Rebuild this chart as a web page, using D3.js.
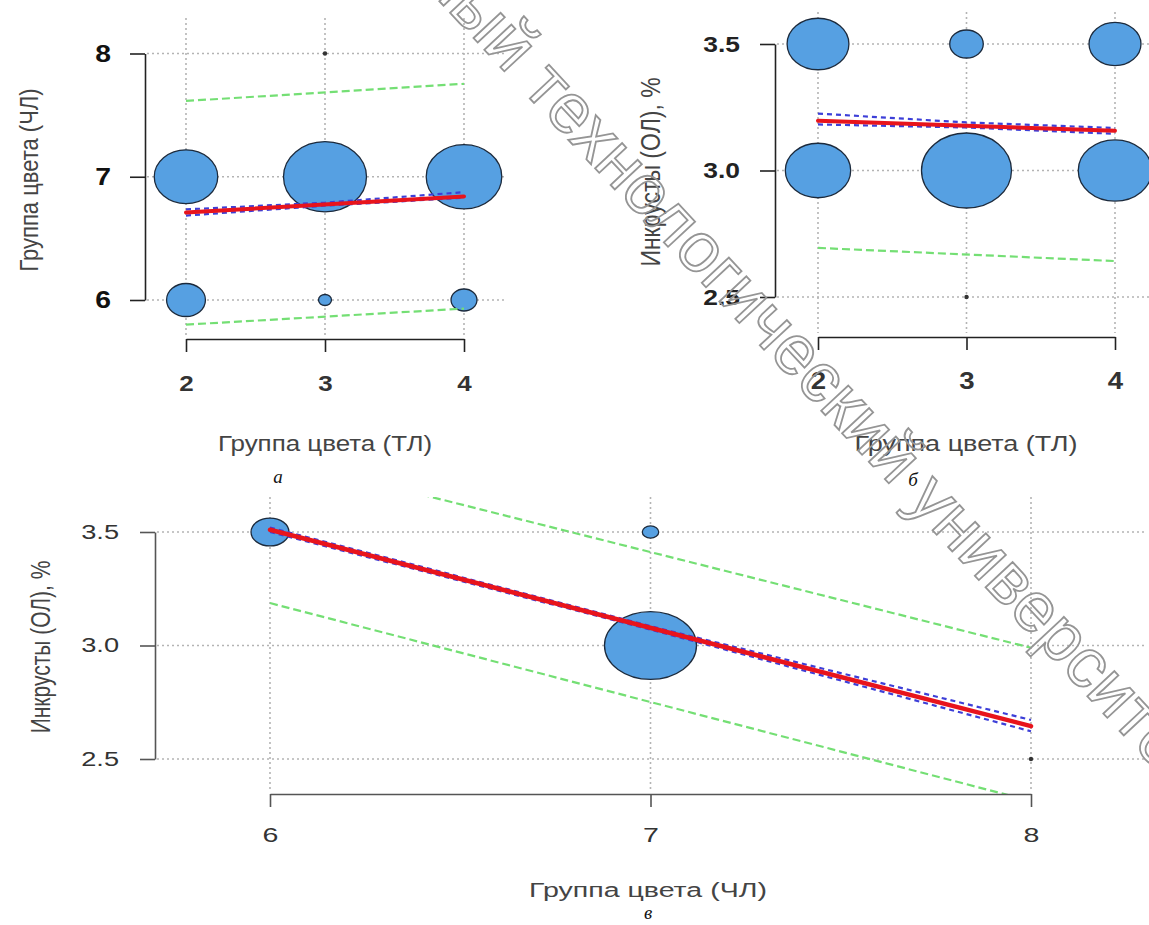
<!DOCTYPE html>
<html><head><meta charset="utf-8">
<script src="https://cdn.jsdelivr.net/npm/d3@7"></script>
<style>body{margin:0;background:#fff}svg{display:block}</style>
</head><body>
<svg id="c" width="1149" height="925"></svg>
<script>
// ---------------- data ----------------
// panel а : Группа цвета (ТЛ) vs Группа цвета (ЧЛ)
const aXTicks = [2, 3, 4];
const aYTicks = [6, 7, 8];
const aBubX = [2, 3, 4, 2, 3, 4, 3];
const aBubY = [7, 7, 7, 6, 6, 6, 8];
const aBubN = [24, 41, 34, 9, 1, 4, 0];
const aFitX = [2, 4], aFitY = [6.71, 6.84];
const aCiX = [2, 3, 4], aCiUp = [6.735, 6.79, 6.875], aCiLo = [6.685, 6.765, 6.83];
const aPiX = [2, 4], aPiUp = [7.615, 7.754], aPiLo = [5.80, 5.93];

// panel б : Группа цвета (ТЛ) vs Инкрусты (ОЛ), %
const bXTicks = [2, 3, 4];
const bYTicks = [2.5, 3.0, 3.5];
const bBubX = [2, 3, 4, 2, 3, 4, 3];
const bBubY = [3.5, 3.5, 3.5, 3.0, 3.0, 3.0, 2.5];
const bBubN = [17, 5, 12, 19, 36, 24, 0];
const bFitX = [2, 4], bFitY = [3.197, 3.157];
const bCiX = [2, 3, 4], bCiUp = [3.225, 3.19, 3.168], bCiLo = [3.182, 3.17, 3.145];
const bPiX = [2, 4], bPiUp = [3.70, 3.672], bPiLo = [2.694, 2.642];

// panel в : Группа цвета (ЧЛ) vs Инкрусты (ОЛ), %
const cXTicks = [6, 7, 8];
const cYTicks = [2.5, 3.0, 3.5];
const cBubX = [6, 7, 7, 8];
const cBubY = [3.5, 3.5, 3.0, 2.5];
const cBubN = [16, 3, 94, 0];
const cFitX = [6, 8], cFitY = [3.51, 2.645];
const cCiX = [6, 7, 8], cCiUp = [3.52, 3.085, 2.672], cCiLo = [3.50, 3.07, 2.622];
const cPiX = [6, 8], cPiUp = [3.833, 2.99], cPiLo = [3.187, 2.315];

const wmBefore = "Витебский государственный";
const wmAfter = "технологический университет";

// ---------------- drawing ----------------
const svg = d3.select('#c');
const SANS = '"Liberation Sans", Arial, sans-serif';
const SERIF = '"Liberation Serif", "Times New Roman", serif';

const panels = [
  { key: 'a', box: {l: 145, r: 505, t: 18, b: 339}, xd: [2, 4], xr: [186, 464], yd: [6, 8], yr: [300, 53.5],
    xt: aXTicks, yt: aYTicks, yf: d3.format('d'), s: 1.18, rmax: 41.5,
    bx: aBubX, by: aBubY, bn: aBubN, fitX: aFitX, fitY: aFitY, ciX: aCiX, ciUp: aCiUp, ciLo: aCiLo,
    piX: aPiX, piUp: aPiUp, piLo: aPiLo,
    yTickFont: {size: 24, weight: 'bold', color: '#111'}, xTickFont: {size: 22, weight: 'bold', color: '#333'},
    ypad: 19, xpad: 23, tickLen: 15, axisColor: '#222',
    xTitle: 'Группа цвета (ТЛ)', xTitlePos: [325, 451], xTitleSize: 22,
    yTitle: 'Группа цвета (ЧЛ)', yTitlePos: [38, 180], yTitleSize: 22,
    letter: 'а', letterPos: [278, 483], redW: 4 },
  { key: 'b', box: {l: 775, r: 1158, t: 12, b: 337}, xd: [2, 4], xr: [818, 1115], yd: [2.5, 3.5], yr: [297, 44],
    xt: bXTicks, yt: bYTicks, yf: d3.format('.1f'), s: 1.2, rmax: 45,
    bx: bBubX, by: bBubY, bn: bBubN, fitX: bFitX, fitY: bFitY, ciX: bCiX, ciUp: bCiUp, ciLo: bCiLo,
    piX: bPiX, piUp: bPiUp, piLo: bPiLo,
    yTickFont: {size: 22, weight: 'bold', color: '#222'}, xTickFont: {size: 23, weight: 'bold', color: '#333'},
    ypad: 20, xpad: 23, tickLen: 15, axisColor: '#222',
    xTitle: 'Группа цвета (ТЛ)', xTitlePos: [966, 451], xTitleSize: 22.5,
    yTitle: 'Инкрусты (ОЛ), %', yTitlePos: [660, 172], yTitleSize: 23,
    letter: 'б', letterPos: [913, 486], redW: 4 },
  { key: 'c', box: {l: 155, r: 1146, t: 497, b: 794}, xd: [6, 8], xr: [270, 1031], yd: [2.5, 3.5], yr: [759, 532],
    xt: cXTicks, yt: cYTicks, yf: d3.format('.1f'), s: 1.36, rmax: 46,
    bx: cBubX, by: cBubY, bn: cBubN, fitX: cFitX, fitY: cFitY, ciX: cCiX, ciUp: cCiUp, ciLo: cCiLo,
    piX: cPiX, piUp: cPiUp, piLo: cPiLo,
    yTickFont: {size: 20, weight: 'normal', color: '#333'}, xTickFont: {size: 21, weight: 'normal', color: '#333'},
    ypad: 21, xpad: 20, tickLen: 15, axisColor: '#555',
    xTitle: 'Группа цвета (ЧЛ)', xTitlePos: [648, 897], xTitleSize: 21,
    yTitle: 'Инкрусты (ОЛ), %', yTitlePos: [50, 647], yTitleSize: 21,
    letter: 'в', letterPos: [648, 919], redW: 4.5 }
];

panels.forEach(p => {
  const x = d3.scaleLinear().domain(p.xd).range(p.xr);
  const y = d3.scaleLinear().domain(p.yd).range(p.yr);
  const g = svg.append('g').attr('class', 'panel-' + p.key);
  const clipId = 'clip-' + p.key;
  svg.append('defs').append('clipPath').attr('id', clipId).append('rect')
    .attr('x', p.box.l).attr('y', p.box.t).attr('width', p.box.r - p.box.l).attr('height', p.box.b - p.box.t);

  // grid (dotted)
  const grid = g.append('g').attr('stroke', '#b4b4b4').attr('stroke-width', 1.6).attr('stroke-dasharray', '2,3');
  grid.selectAll('line.v').data(p.xt).join('line').attr('class', 'v')
    .attr('x1', d => x(d)).attr('x2', d => x(d)).attr('y1', p.box.t).attr('y2', p.box.b - 4);
  grid.selectAll('line.h').data(p.yt).join('line').attr('class', 'h')
    .attr('y1', d => y(d)).attr('y2', d => y(d)).attr('x1', p.box.l + 2).attr('x2', p.box.r);

  const plot = g.append('g').attr('clip-path', `url(#${clipId})`);

  // bubbles
  const nmax = d3.max(p.bn);
  const rs = d3.scaleSqrt().domain([0, nmax]).range([0, p.rmax]);
  const bub = p.bx.map((v, i) => ({x: v, y: p.by[i], n: p.bn[i]}));
  plot.selectAll('ellipse.bub').data(bub.filter(d => d.n > 0)).join('ellipse').attr('class', 'bub')
    .attr('cx', d => x(d.x)).attr('cy', d => y(d.y))
    .attr('rx', d => rs(d.n)).attr('ry', d => rs(d.n) / p.s)
    .attr('fill', '#56a0e2').attr('stroke', '#1c2a3c').attr('stroke-width', 1.3);
  plot.selectAll('circle.dot').data(bub.filter(d => d.n === 0)).join('circle').attr('class', 'dot')
    .attr('cx', d => x(d.x)).attr('cy', d => y(d.y)).attr('r', 2.2).attr('fill', '#333');

  const line = d3.line().x(d => x(d[0])).y(d => y(d[1]));
  const zip = (xs, ys) => xs.map((v, i) => [v, ys[i]]);

  // prediction band (green dashed)
  [p.piUp, p.piLo].forEach(arr => {
    plot.append('path').attr('d', line(zip(p.piX, arr))).attr('fill', 'none')
      .attr('stroke', '#74df74').attr('stroke-width', 2.2).attr('stroke-dasharray', '8,4');
  });
  // confidence band (blue dashed)
  [p.ciUp, p.ciLo].forEach(arr => {
    plot.append('path').attr('d', line(zip(p.ciX, arr))).attr('fill', 'none')
      .attr('stroke', '#3d3fd8').attr('stroke-width', 2.2).attr('stroke-dasharray', '5,4');
  });
  // fitted line (red)
  plot.append('path').attr('d', line(zip(p.fitX, p.fitY))).attr('fill', 'none')
    .attr('stroke', '#e8141c').attr('stroke-width', p.redW).attr('stroke-linecap', 'round');

  // axes (R style: line spans the ticks only)
  const ya = d3.axisLeft(y).tickValues(p.yt).tickFormat(p.yf).tickSize(p.tickLen).tickSizeOuter(0).tickPadding(p.ypad);
  const yg = g.append('g').attr('transform', `translate(${p.box.l},0)`).call(ya);
  const xa = d3.axisBottom(x).tickValues(p.xt).tickFormat(d3.format('d')).tickSize(13).tickSizeOuter(0).tickPadding(p.xpad);
  const xg = g.append('g').attr('transform', `translate(0,${p.box.b})`).call(xa);
  [yg, xg].forEach(ag => {
    ag.select('.domain').attr('stroke', p.axisColor).attr('stroke-width', 1.6);
    ag.selectAll('.tick line').attr('stroke', p.axisColor).attr('stroke-width', 1.6);
  });
  yg.selectAll('.tick text')
    .attr('font-family', SANS).attr('font-size', p.yTickFont.size).attr('font-weight', p.yTickFont.weight)
    .attr('fill', p.yTickFont.color)
    .attr('x', -(p.tickLen + p.ypad) / p.s).attr('transform', `scale(${p.s},1)`);
  xg.selectAll('.tick text')
    .attr('font-family', SANS).attr('font-size', p.xTickFont.size).attr('font-weight', p.xTickFont.weight)
    .attr('fill', p.xTickFont.color).attr('transform', `scale(${p.s},1)`);

  // titles
  g.append('text').attr('transform', `translate(${p.xTitlePos[0]},${p.xTitlePos[1]}) scale(${p.s},1)`)
    .attr('text-anchor', 'middle').attr('font-family', SANS).attr('font-size', p.xTitleSize)
    .attr('fill', '#444').text(p.xTitle);
  g.append('text').attr('transform', `translate(${p.yTitlePos[0]},${p.yTitlePos[1]}) scale(${p.s},1) rotate(-90)`)
    .attr('text-anchor', 'middle').attr('font-family', SANS).attr('font-size', p.yTitleSize)
    .attr('fill', '#444').text(p.yTitle);
  g.append('text').attr('x', p.letterPos[0]).attr('y', p.letterPos[1])
    .attr('text-anchor', 'middle').attr('font-family', SERIF).attr('font-style', 'italic')
    .attr('font-size', 19).attr('fill', '#111').text(p.letter);
});

// watermark (outlined diagonal text)
const wmFont = 70, wmAng = 47;
const wm = svg.append('g').attr('transform', `translate(521,89) rotate(${wmAng})`)
  .attr('font-family', SANS).attr('font-size', wmFont).attr('fill', 'none')
  .attr('stroke', '#959595').attr('stroke-width', 1.8);
wm.append('text').attr('x', -wmFont * 0.278).attr('y', 0).attr('text-anchor', 'end').text(wmBefore);
wm.append('text').attr('x', 0).attr('y', 0).attr('text-anchor', 'start').text(wmAfter);
</script>
</body></html>
